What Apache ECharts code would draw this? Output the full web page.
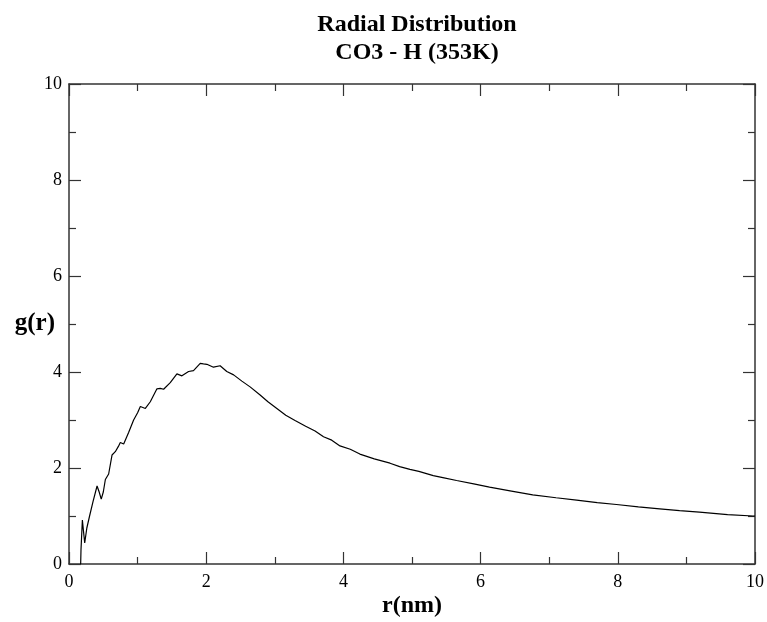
<!DOCTYPE html>
<html><head><meta charset="utf-8">
<script src="https://cdn.jsdelivr.net/npm/echarts@6/dist/echarts.min.js"></script>
<style>html,body{margin:0;padding:0;background:#fff}#c{width:767px;height:622px}</style>
</head><body><div id="c"></div>
<script>
const titleLines = ["Radial Distribution", "CO3 - H (353K)"];
const xName = "r(nm)";
const yName = "g(r)";
const rValues = [0.17,0.175,0.195,0.21,0.229,0.26,0.3,0.35,0.409,0.44,0.47,0.5,0.53,0.578,0.627,0.675,0.72,0.748,0.797,0.869,0.942,1.0,1.04,1.113,1.185,1.282,1.33,1.379,1.476,1.573,1.646,1.743,1.815,1.913,1.96,2.01,2.106,2.203,2.30,2.40,2.52,2.64,2.786,2.9,3.03,3.16,3.295,3.45,3.587,3.71,3.83,3.95,4.1,4.24,4.45,4.68,4.82,4.97,5.1,5.31,5.45,5.65,5.9,6.13,6.45,6.76,7.1,7.40,7.7,7.98,8.3,8.61,8.9,9.19,9.6,9.97,10.0];
const gValues = [0.0,0.3,0.917,0.7,0.44,0.75,1.0,1.3,1.625,1.5,1.35,1.5,1.76,1.875,2.27,2.34,2.45,2.53,2.5,2.74,3.0,3.15,3.28,3.24,3.38,3.65,3.66,3.64,3.78,3.96,3.92,4.01,4.03,4.18,4.17,4.16,4.10,4.13,4.01,3.94,3.81,3.69,3.52,3.38,3.24,3.1,2.99,2.87,2.77,2.65,2.58,2.46,2.39,2.29,2.19,2.10,2.03,1.97,1.93,1.84,1.80,1.74,1.67,1.60,1.52,1.44,1.38,1.33,1.28,1.24,1.19,1.15,1.11,1.08,1.03,1.0,1.0];
const xTicks = [0,2,4,6,8,10];
const yTicks = [0,2,4,6,8,10];

const font = "'Liberation Serif','Times New Roman',serif";
const chart = echarts.init(document.getElementById('c'));
const axisLine = {show:true, onZero:false, lineStyle:{color:'#333', width:1.5}};
const tick = {show:true, inside:true, length:12, lineStyle:{color:'#333', width:1.2}};
const minor = {show:true, splitNumber:2, length:7, lineStyle:{color:'#333', width:1.2}};
chart.setOption({
  animation:false,
  backgroundColor:'#fff',
  title:{text:titleLines.join('\n'), left:412, top:6, textAlign:'center',
    textStyle:{fontFamily:font, fontWeight:'bold', fontSize:24, color:'#000', lineHeight:28}},
  grid:{left:69, right:12, top:84, bottom:58, show:false, containLabel:false, outerBoundsMode:'none'},
  xAxis:[
    {type:'value', min:0, max:10, interval:2, position:'bottom',
     name:xName, nameLocation:'middle', nameGap:30, nameMoveOverlap:false,
     nameTextStyle:{fontFamily:font, fontWeight:'bold', fontSize:24, color:'#000'},
     axisLine, axisTick:tick, minorTick:minor, splitLine:{show:false},
     axisLabel:{fontFamily:font, fontSize:18, color:'#000', margin:9,
       formatter:v=>xTicks.includes(v)?String(v):''}},
    {type:'value', min:0, max:10, interval:2, position:'top',
     axisLine, axisTick:tick, minorTick:minor, splitLine:{show:false}, axisLabel:{show:false}}
  ],
  yAxis:[
    {type:'value', min:0, max:10, interval:2, position:'left',
     name:yName, nameLocation:'middle', nameGap:14, nameRotate:0, nameMoveOverlap:false,
     nameTextStyle:{fontFamily:font, fontWeight:'bold', fontSize:25, color:'#000'},
     axisLine, axisTick:tick, minorTick:minor, splitLine:{show:false},
     axisLabel:{fontFamily:font, fontSize:18, color:'#000', margin:7,
       formatter:v=>yTicks.includes(v)?String(v):''}},
    {type:'value', min:0, max:10, interval:2, position:'right',
     axisLine, axisTick:tick, minorTick:minor, splitLine:{show:false}, axisLabel:{show:false}}
  ],
  series:[{type:'line', data:rValues.map((r,i)=>[r,gValues[i]]), showSymbol:false,
    lineStyle:{color:'#000', width:1.2}, smooth:false}]
});
</script></body></html>
